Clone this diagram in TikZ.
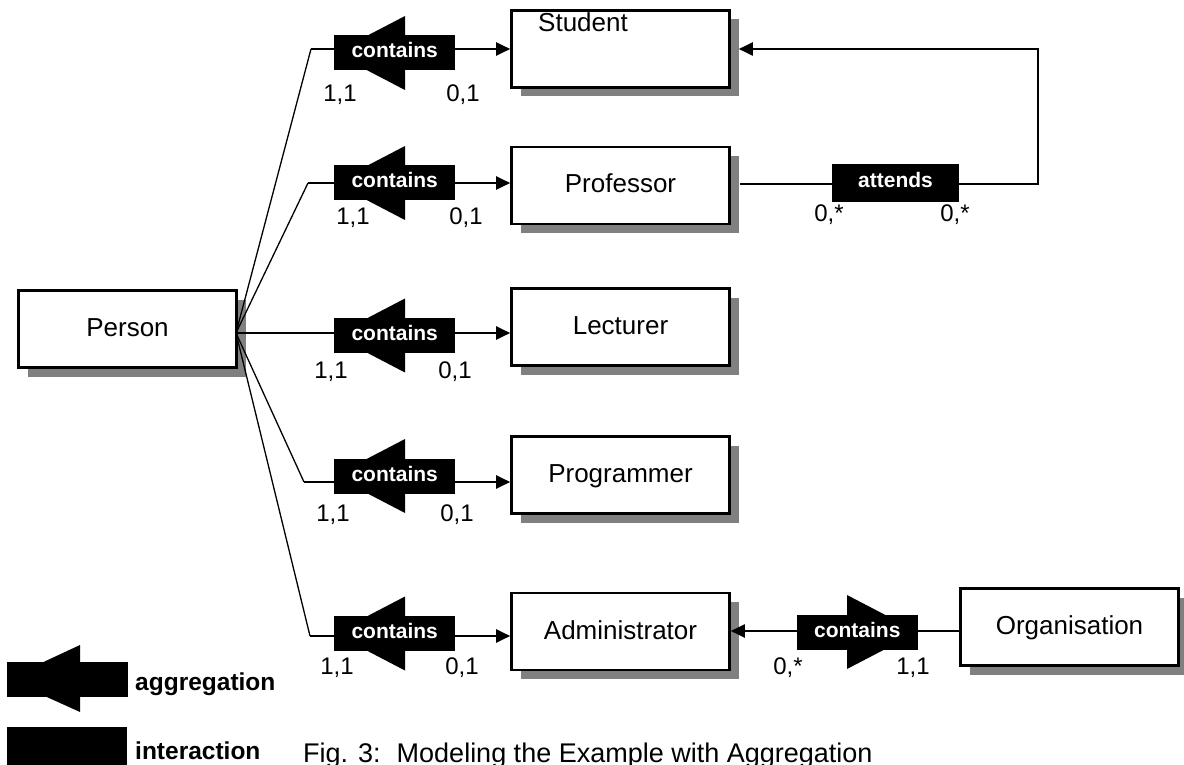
\documentclass[tikz,border=0pt]{standalone}
\usepackage{fontspec}
\setmainfont{Liberation Sans}
\usetikzlibrary{arrows.meta,shadows}
\definecolor{shadowgray}{gray}{0.5}
\tikzset{
  entity/.style={draw, line width=2.6pt, fill=white, minimum width=218pt, minimum height=77pt,
    inner sep=0pt, font=\fontsize{26}{30}\selectfont, text height=19pt, text depth=4pt,
    general shadow={fill=shadowgray, shadow xshift=9pt, shadow yshift=-9pt}},
  relbox/.style={fill=black, text=white, font=\fontsize{21}{24}\selectfont\bfseries,
    minimum width=121pt, minimum height=35pt, inner sep=0pt, text height=11pt, text depth=1pt},
  card/.style={font=\fontsize{24}{27}\selectfont, anchor=base, inner sep=0pt},
  conn/.style={line width=2pt},
  fan/.style={line width=1.3pt},
  arr/.style={-{Triangle[length=14pt,width=13pt]}},
  legendtext/.style={font=\fontsize{24.5}{28}\selectfont\bfseries, anchor=base west, inner sep=0pt},
}
\begin{document}
\begin{tikzpicture}[x=1pt,y=-1pt]
\useasboundingbox (0,0) rectangle (1184,765);
\clip (0,0) rectangle (1184,765);
\fill[white] (0,0) rectangle (1184,765);

% entities
\node[entity] (Person) at (127.5,329) {Person};
\node[entity] (Student) at (620.5,49) {};
\node[anchor=base, inner sep=0pt, font=\fontsize{26}{30}\selectfont] (StudentLabel) at (583,32) {Student};
\node[entity] (Professor) at (620.5,185.5) {Professor};
\node[entity] (Lecturer) at (620.5,327) {Lecturer};
\node[entity] (Programmer) at (620.5,475) {Programmer};
\node[entity] (Administrator) at (620.5,631.5) {Administrator};
\node[entity] (Organisation) at (1069.5,627) {Organisation};

% fan from Person
\coordinate (pe) at (236,333);
\coordinate (e1) at (311,49);
\coordinate (e2) at (308,183);
\coordinate (e4) at (304,482);
\coordinate (e5) at (310,636);
\coordinate (l3) at (334,333);
\draw[fan] (pe) -- (e1);
\draw[fan] (pe) -- (e2);
\draw[fan] (pe) -- (e4);
\draw[fan] (pe) -- (e5);
\draw[conn,arr] (e1) -- (Student.west |- e1);
\draw[conn,arr] (e2) -- (Professor.west |- e2);
\draw[conn,arr] (pe) -- (Lecturer.west |- l3);
\draw[conn,arr] (e4) -- (Programmer.west |- e4);
\draw[conn,arr] (e5) -- (Administrator.west |- e5);

% aggregation symbols (left pointing)
\foreach \n/\y in {1/53,2/183,3/335.5,4/476,5/633.5}{
  \coordinate (k\n) at (334,\y);
  \fill (k\n) -- ++(71,-37) -- ++(0,74) -- cycle;
  \node[relbox, anchor=west] (c\n) at (k\n) {contains};
}

% cardinalities
\node[card] (a1) at (340,101.5) {1,1};
\node[card] (b1) at (463,101.5) {0,1};
\node[card] (a2) at (353,224) {1,1};
\node[card] (b2) at (466,224) {0,1};
\node[card] (a3) at (331,378.5) {1,1};
\node[card] (b3) at (455,378.5) {0,1};
\node[card] (a4) at (333,521) {1,1};
\node[card] (b4) at (457,521) {0,1};
\node[card] (a5) at (337,674.5) {1,1};
\node[card] (b5) at (462,674.5) {0,1};

% attends
\coordinate (pr) at (740,184);
\coordinate (t1) at (1038,184);
\coordinate (t2) at (1038,49);
\draw[conn,arr] (pr) -- (t1) -- (t2) -- ([xshift=8pt]Student.east |- t2);
\node[relbox, minimum width=127pt, minimum height=38pt] (att) at (895.5,183) {attends};
\node[card] (at1) at (829,222) {0,*};
\node[card] (at2) at (955,222) {0,*};

% organisation contains
\coordinate (ol) at (850,631);
\draw[conn,arr] (Organisation.west |- ol) -- (Administrator.east |- ol);
\coordinate (ko) at (918,632);
\fill (ko) -- ++(-71,-37) -- ++(0,74) -- cycle;
\node[relbox, anchor=east] (co) at (ko) {contains};
\node[card] (oc1) at (788,674.5) {0,*};
\node[card] (oc2) at (913,674.5) {1,1};

% legend
\coordinate (la) at (7,679);
\fill (la) -- ++(73,-34) -- ++(0,67) -- cycle;
\node[fill=black, anchor=west, minimum width=121pt, minimum height=35pt, inner sep=0pt] (aggsym) at (la) {};
\node[legendtext] (aggtxt) at (135,690) {aggregation};
\node[fill=black, anchor=north west, minimum width=120pt, minimum height=45pt, inner sep=0pt] (intsym) at (7,727) {};
\node[legendtext] (inttxt) at (135,759) {interaction};

% caption
\node[anchor=base west, inner sep=0pt, font=\fontsize{27}{30}\selectfont] (cap) at (303,762)
  {Fig. 3:\hspace{16pt}Modeling the Example with Aggregation};
\end{tikzpicture}
\end{document}
